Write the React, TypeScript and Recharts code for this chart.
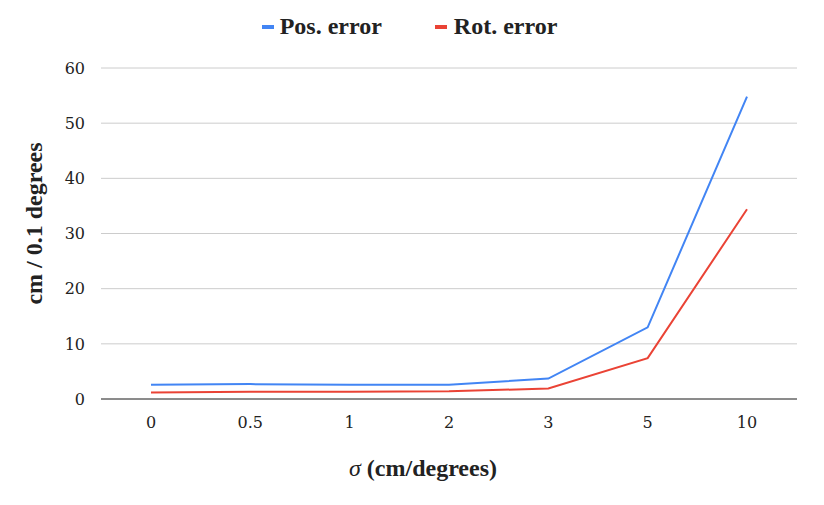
import { LineChart, Line, XAxis, YAxis, CartesianGrid, Legend } from "recharts";

const sigmas = ["0", "0.5", "1", "2", "3", "5", "10"];
const posError = [2.6, 2.7, 2.6, 2.6, 3.7, 13.0, 54.8];
const rotError = [1.2, 1.3, 1.3, 1.4, 1.9, 7.4, 34.4];
const yTicks = [0, 10, 20, 30, 40, 50, 60];

const data = sigmas.map((s, i) => ({ sigma: s, pos: posError[i], rot: rotError[i] }));

const serif = "Times New Roman, Liberation Serif, serif";
const tickSerif = "DejaVu Serif";

const LegendContent = () => (
  <div style={{ display: "flex", justifyContent: "center", alignItems: "center", fontFamily: serif, fontWeight: "bold", fontSize: 24, color: "#222", paddingLeft: 22 }}>
    <span style={{ display: "inline-block", width: 12, height: 4, background: "#4285F4", marginRight: 6 }} />
    <span style={{ marginRight: 53 }}>Pos. error</span>
    <span style={{ display: "inline-block", width: 12, height: 4, background: "#EA4335", marginRight: 7 }} />
    <span>Rot. error</span>
  </div>
);

export default function App() {
  return (
    <div style={{ position: "absolute", left: 0, top: 0, background: "#fff" }}>
      <LineChart width={824} height={505} data={data} margin={{ top: 28, right: 27, left: 0, bottom: 0 }}>
        <Legend verticalAlign="top" height={40} wrapperStyle={{ top: 13 }} content={LegendContent} />
        <CartesianGrid vertical={false} stroke="#cccccc" />
        <XAxis
          dataKey="sigma"
          height={106}
          padding={{ left: 50, right: 50 }}
          tickLine={false}
          tickMargin={12}
          axisLine={{ stroke: "#333333" }}
          tick={{ fill: "#222", fontSize: 16, fontFamily: tickSerif }}
          label={(props: any) => {
            const vb = props.viewBox;
            return (
              <text x={423} y={vb.y + 77} textAnchor="middle" fontFamily={serif} fontSize={24} fill="#222">
                <tspan fontStyle="italic">σ</tspan>
                <tspan fontWeight="bold"> (cm/degrees)</tspan>
              </text>
            );
          }}
        />
        <YAxis
          width={101}
          domain={[0, 60]}
          ticks={yTicks}
          axisLine={false}
          tickLine={false}
          tickMargin={10}
          tick={{ fill: "#222", fontSize: 16, fontFamily: tickSerif }}
          label={(props: any) => {
            const vb = props.viewBox;
            const cy = vb.y + vb.height / 2 - 10;
            return (
              <text x={42} y={cy} transform={`rotate(-90, 42, ${cy})`} textAnchor="middle" fontFamily={serif} fontWeight="bold" fontSize={24} fill="#222">
                cm / 0.1 degrees
              </text>
            );
          }}
        />
        <Line type="linear" dataKey="pos" name="Pos. error" stroke="#4285F4" strokeWidth={2} dot={false} isAnimationActive={false} />
        <Line type="linear" dataKey="rot" name="Rot. error" stroke="#EA4335" strokeWidth={2} dot={false} isAnimationActive={false} />
      </LineChart>
    </div>
  );
}
